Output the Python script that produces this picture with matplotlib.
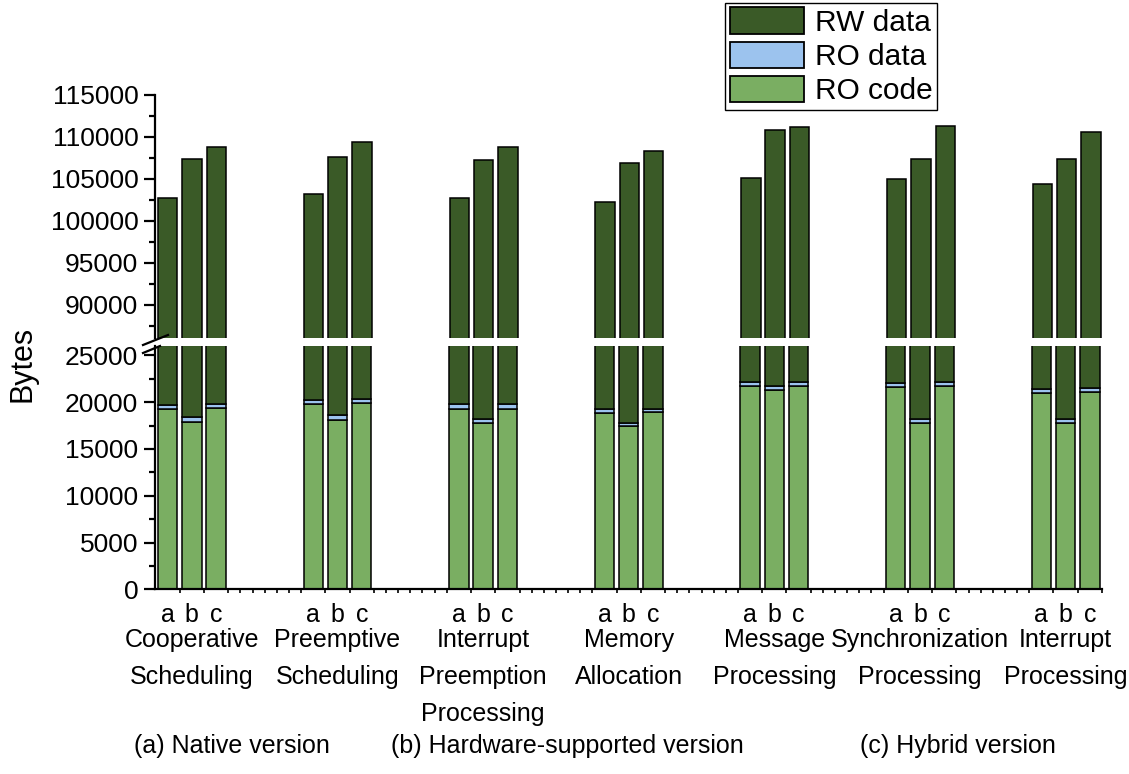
import matplotlib
matplotlib.use("Agg")
import matplotlib.pyplot as plt
import numpy as np
from matplotlib.lines import Line2D
from matplotlib.patches import Patch

plt.rcParams["font.family"] = ["Liberation Sans", "DejaVu Sans"]

# ROM footprint per benchmark, three builds each (a, b, c)
groups = [
    "Cooperative\nScheduling",
    "Preemptive\nScheduling",
    "Interrupt\nPreemption\nProcessing",
    "Memory\nAllocation",
    "Message\nProcessing",
    "Synchronization\nProcessing",
    "Interrupt\nProcessing",
]
versions = ["a", "b", "c"]
captions = ["(a) Native version", "(b) Hardware-supported version", "(c) Hybrid version"]

ro_code = [
    [19280, 17910, 19350],
    [19850, 18130, 19920],
    [19280, 17740, 19310],
    [18880, 17420, 18920],
    [21700, 21330, 21700],
    [21590, 17810, 21760],
    [20980, 17810, 21040],
]
ro_data = [
    [430, 470, 460],
    [430, 470, 460],
    [560, 500, 500],
    [370, 360, 360],
    [430, 370, 430],
    [430, 430, 440],
    [430, 430, 430],
]
rw_data = [
    [82970, 88970, 88970],
    [82900, 88990, 89000],
    [82850, 89000, 88970],
    [83020, 89100, 89030],
    [82920, 89090, 89010],
    [82940, 89050, 89020],
    [82960, 89050, 89040],
]

C_RW = "#3a5a27"
C_DATA = "#9cc3ee"
C_CODE = "#7aae62"

code = np.array(ro_code).ravel()
data = np.array(ro_data).ravel()
rw = np.array(rw_data).ravel()
n_groups = len(groups)
n_ver = len(versions)
x = np.array([g * 6 + v for g in range(n_groups) for v in range(n_ver)], dtype=float)
centers = np.array([g * 6 + 1 for g in range(n_groups)], dtype=float)

fig = plt.figure(figsize=(11.29, 7.74), dpi=100)
W, H = 1129, 774
left, right = 155 / W, 1102 / W
ax_lo = fig.add_axes([left, 1 - 589.3 / H, right - left, (589.3 - 346) / H])
ax_hi = fig.add_axes([left, 1 - 338.3 / H, right - left, (338.3 - 94.7) / H])

for ax in (ax_lo, ax_hi):
    kw = dict(width=0.8, edgecolor="black", linewidth=1.1)
    ax.bar(x, code, color=C_CODE, **kw)
    ax.bar(x, data, bottom=code, color=C_DATA, **kw)
    ax.bar(x, rw, bottom=code + data, color=C_RW, **kw)
    ax.set_xlim(-0.52, 38.45)
    ax.spines["top"].set_visible(False)
    ax.spines["right"].set_visible(False)
    ax.spines["left"].set_linewidth(1.6)
    ax.tick_params(axis="y", which="major", length=8, width=1.6, labelsize=19, pad=4)
    ax.tick_params(axis="y", which="minor", length=4.5, width=1.6)

ax_lo.set_ylim(0, 26000)
ax_lo.set_yticks(np.arange(0, 25001, 5000))
ax_lo.set_yticks(np.arange(2500, 25001, 5000), minor=True)
ax_lo.spines["bottom"].set_linewidth(1.6)
ax_lo.set_xticks(x)
ax_lo.set_xticklabels(versions * n_groups)
ax_lo.set_xticks(np.arange(0, 38.6, 0.5), minor=True)
ax_lo.tick_params(axis="x", which="major", length=0, labelsize=18, pad=10)
ax_lo.tick_params(axis="x", which="minor", length=3, width=1.2)

ax_hi.set_ylim(86000, 115000)
ax_hi.set_yticks(np.arange(90000, 115001, 5000))
ax_hi.set_yticks(np.arange(87500, 115001, 5000), minor=True)
ax_hi.spines["bottom"].set_visible(False)
ax_hi.set_xticks([])

# group names under the a/b/c labels
for cx, name in zip(centers, groups):
    ax_lo.annotate(name, xy=(cx, 0), xycoords=("data", "axes fraction"),
                   xytext=(0, -28), textcoords="offset points",
                   ha="center", va="top", fontsize=18, linespacing=1.68)

# axis break marks on the left spine
for (x0, y0), (x1, y1) in [((143, 345), (168, 335)), ((143, 353), (160, 346))]:
    fig.add_artist(Line2D([x0 / W, x1 / W], [1 - y0 / H, 1 - y1 / H],
                          transform=fig.transFigure, color="black", linewidth=1.6))

fig.text(22 / W, 1 - 364 / H, "Bytes", rotation=90, ha="center", va="center", fontsize=22)

for cx, text in zip([232, 567, 958], captions):
    fig.text(cx / W, 1 - 746 / H, text, ha="center", va="center", fontsize=18)

handles = [
    Patch(facecolor=C_RW, edgecolor="black", linewidth=1.3, label="RW data"),
    Patch(facecolor=C_DATA, edgecolor="black", linewidth=1.3, label="RO data"),
    Patch(facecolor=C_CODE, edgecolor="black", linewidth=1.3, label="RO code"),
]
leg = fig.legend(handles=handles, loc="upper right", bbox_to_anchor=(937 / W, 1 - 3 / H),
                 fontsize=21.5, frameon=True, fancybox=False, framealpha=1,
                 edgecolor="black", handlelength=2.5, handleheight=1.0,
                 labelspacing=0.15, borderpad=0.15, handletextpad=0.35, borderaxespad=0)
leg.get_frame().set_linewidth(1.0)

fig.savefig("out.png", dpi=100)
